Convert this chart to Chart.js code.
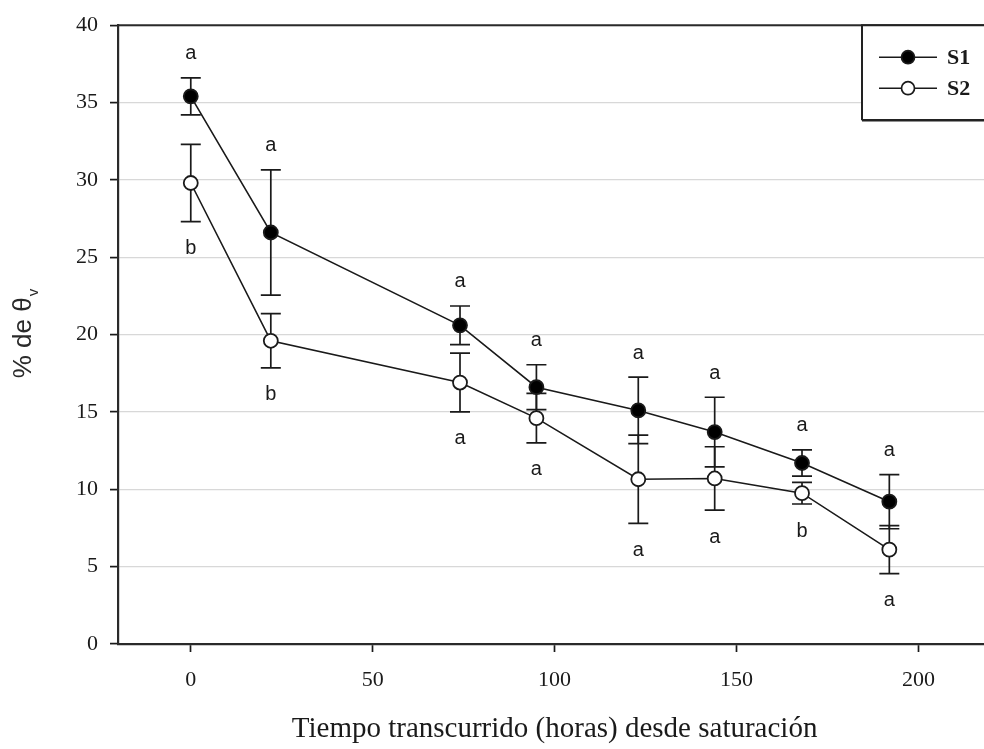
<!DOCTYPE html>
<html>
<head>
<meta charset="utf-8">
<script src="https://cdn.jsdelivr.net/npm/chart.js@4.4.1/dist/chart.umd.min.js"></script>
<style>
  html, body { margin: 0; padding: 0; background: #fff; overflow: hidden; }
</style>
</head>
<body>
<canvas id="line-chart" width="1000" height="749"></canvas>
<script>
// hours since saturation
var hours = [0, 22, 74, 95, 123, 144, 168, 192];
// % de theta v, means and error (+/-)
var s1Values = [35.4, 26.6, 20.6, 16.6, 15.1, 13.7, 11.7, 9.2];
var s1Errors = [1.2, 4.05, 1.25, 1.45, 2.15, 2.25, 0.85, 1.75];
var s2Values = [29.8, 19.6, 16.9, 14.6, 10.65, 10.7, 9.75, 6.1];
var s2Errors = [2.5, 1.75, 1.9, 1.6, 2.85, 2.05, 0.7, 1.55];
// significance letters
var s1Letters = ['a', 'a', 'a', 'a', 'a', 'a', 'a', 'a'];
var s2Letters = ['b', 'b', 'a', 'a', 'a', 'a', 'b', 'a'];
var seriesNames = ['S1', 'S2'];
var xTicks = [0, 50, 100, 150, 200];
var yTicks = [0, 5, 10, 15, 20, 25, 30, 35, 40];
var xTitle = 'Tiempo transcurrido (horas) desde saturación';
var yTitle = '% de θ';
var yTitleSub = 'v';

var ink = '#1a1a1a';

function points(vals) {
  return hours.map(function (h, i) { return { x: h, y: vals[i] }; });
}

// error bars under the markers
var errorBars = {
  id: 'errorBars',
  beforeDatasetsDraw: function (chart) {
    var ctx = chart.ctx, xs = chart.scales.x, ys = chart.scales.y;
    var sets = [[s1Values, s1Errors], [s2Values, s2Errors]];
    ctx.save();
    ctx.strokeStyle = ink;
    ctx.lineWidth = 1.7;
    sets.forEach(function (s) {
      hours.forEach(function (h, i) {
        var px = xs.getPixelForValue(h);
        var top = ys.getPixelForValue(s[0][i] + s[1][i]);
        var bot = ys.getPixelForValue(s[0][i] - s[1][i]);
        ctx.beginPath();
        ctx.moveTo(px, top); ctx.lineTo(px, bot);
        ctx.moveTo(px - 10, top); ctx.lineTo(px + 10, top);
        ctx.moveTo(px - 10, bot); ctx.lineTo(px + 10, bot);
        ctx.stroke();
      });
    });
    ctx.restore();
  },
  afterDatasetsDraw: function (chart) {
    var ctx = chart.ctx, xs = chart.scales.x, ys = chart.scales.y;
    ctx.save();
    ctx.fillStyle = ink;
    ctx.font = '20px "Liberation Sans", Arial, sans-serif';
    ctx.textAlign = 'center';
    ctx.textBaseline = 'middle';
    hours.forEach(function (h, i) {
      var px = xs.getPixelForValue(h);
      ctx.fillText(s1Letters[i], px, ys.getPixelForValue(s1Values[i] + s1Errors[i]) - 24);
      ctx.fillText(s2Letters[i], px, ys.getPixelForValue(s2Values[i] - s2Errors[i]) + 27);
    });
    ctx.restore();
  }
};

// frame top line, y title with subscript, legend box
var decorations = {
  id: 'decorations',
  afterDraw: function (chart) {
    var ctx = chart.ctx, a = chart.chartArea;
    ctx.save();
    ctx.strokeStyle = '#2a2a2a';
    ctx.lineWidth = 2;
    ctx.beginPath();
    ctx.moveTo(a.left, a.top); ctx.lineTo(chart.width, a.top);
    ctx.stroke();

    // y title
    ctx.translate(24, 334);
    ctx.rotate(-Math.PI / 2);
    ctx.fillStyle = '#2a2a2a';
    ctx.textBaseline = 'middle';
    ctx.font = '26px "Liberation Sans", Arial, sans-serif';
    var w1 = ctx.measureText(yTitle).width;
    ctx.font = '15px "Liberation Sans", Arial, sans-serif';
    var w2 = ctx.measureText(yTitleSub).width;
    var x0 = -(w1 + w2) / 2;
    ctx.font = '26px "Liberation Sans", Arial, sans-serif';
    ctx.textAlign = 'left';
    ctx.fillText(yTitle, x0, 0);
    ctx.font = '15px "Liberation Sans", Arial, sans-serif';
    ctx.fillText(yTitleSub, x0 + w1 + 1, 10);
    ctx.restore();

    // legend
    var lx = 862, ly = a.top, lh = 95;
    ctx.save();
    ctx.fillStyle = '#fff';
    ctx.fillRect(lx, ly, chart.width - lx, lh);
    ctx.strokeStyle = '#222';
    ctx.lineWidth = 2;
    ctx.beginPath();
    ctx.moveTo(chart.width, ly); ctx.lineTo(lx, ly); ctx.lineTo(lx, ly + lh);
    ctx.stroke();
    ctx.lineWidth = 2.5;
    ctx.beginPath();
    ctx.moveTo(lx, ly + lh); ctx.lineTo(chart.width, ly + lh);
    ctx.stroke();
    chart.data.datasets.forEach(function (ds, i) {
      var yy = ly + 32 + i * 31;
      ctx.strokeStyle = ink;
      ctx.lineWidth = 1.5;
      ctx.beginPath();
      ctx.moveTo(879, yy); ctx.lineTo(937, yy);
      ctx.stroke();
      ctx.beginPath();
      ctx.arc(908, yy, 6.5, 0, Math.PI * 2);
      ctx.fillStyle = ds.pointBackgroundColor;
      ctx.fill();
      ctx.lineWidth = 1.7;
      ctx.stroke();
      ctx.fillStyle = ink;
      ctx.font = 'bold 22px "Liberation Serif", "Times New Roman", serif';
      ctx.textAlign = 'left';
      ctx.textBaseline = 'middle';
      ctx.fillText(ds.label, 947, yy + 1);
    });
    ctx.restore();
  }
};

var ctx = document.getElementById('line-chart');
var myChart = new Chart(ctx, {
  type: 'scatter',
  data: {
    datasets: [{
        label: seriesNames[0],
        data: points(s1Values),
        showLine: true,
        borderColor: ink,
        borderWidth: 1.6,
        pointRadius: 7,
        pointBackgroundColor: '#000',
        pointBorderColor: ink,
        pointBorderWidth: 1.8
      }, {
        label: seriesNames[1],
        data: points(s2Values),
        showLine: true,
        borderColor: ink,
        borderWidth: 1.6,
        pointRadius: 7,
        pointBackgroundColor: '#fff',
        pointBorderColor: ink,
        pointBorderWidth: 1.8
      }
    ]
  },
  plugins: [errorBars, decorations],
  options: {
    responsive: false,
    animation: false,
    devicePixelRatio: 1,
    layout: { padding: { top: 20, right: 6, bottom: 0, left: 0 } },
    plugins: {
      legend: { display: false },
      tooltip: { enabled: false }
    },
    scales: {
      x: {
        type: 'linear',
        min: -20,
        max: 220,
        afterBuildTicks: function (s) { s.ticks = xTicks.map(function (v) { return { value: v }; }); },
        afterFit: function (s) { s.height = 105; },
        grid: { drawOnChartArea: false, tickLength: 8, tickColor: ink, tickWidth: 1.7 },
        border: { display: true, color: '#2a2a2a', width: 2.2 },
        ticks: {
          padding: 15,
          color: ink,
          maxRotation: 0,
          font: { family: '"Liberation Serif", "Times New Roman", serif', size: 22 }
        },
        title: {
          display: true,
          text: xTitle,
          color: ink,
          padding: { top: 4, bottom: 2 },
          font: { family: '"Liberation Serif", "Times New Roman", serif', size: 29 }
        }
      },
      y: {
        min: 0,
        max: 40,
        afterBuildTicks: function (s) { s.ticks = yTicks.map(function (v) { return { value: v }; }); },
        afterFit: function (s) { s.width = 118; },
        grid: { color: '#d8d8d8', lineWidth: 1.2, tickLength: 8, tickColor: ink, tickWidth: 1.7 },
        border: { display: true, color: '#2a2a2a', width: 2.2 },
        ticks: {
          padding: 12,
          color: ink,
          font: { family: '"Liberation Serif", "Times New Roman", serif', size: 22 }
        }
      }
    }
  }
});
</script>
</body>
</html>
